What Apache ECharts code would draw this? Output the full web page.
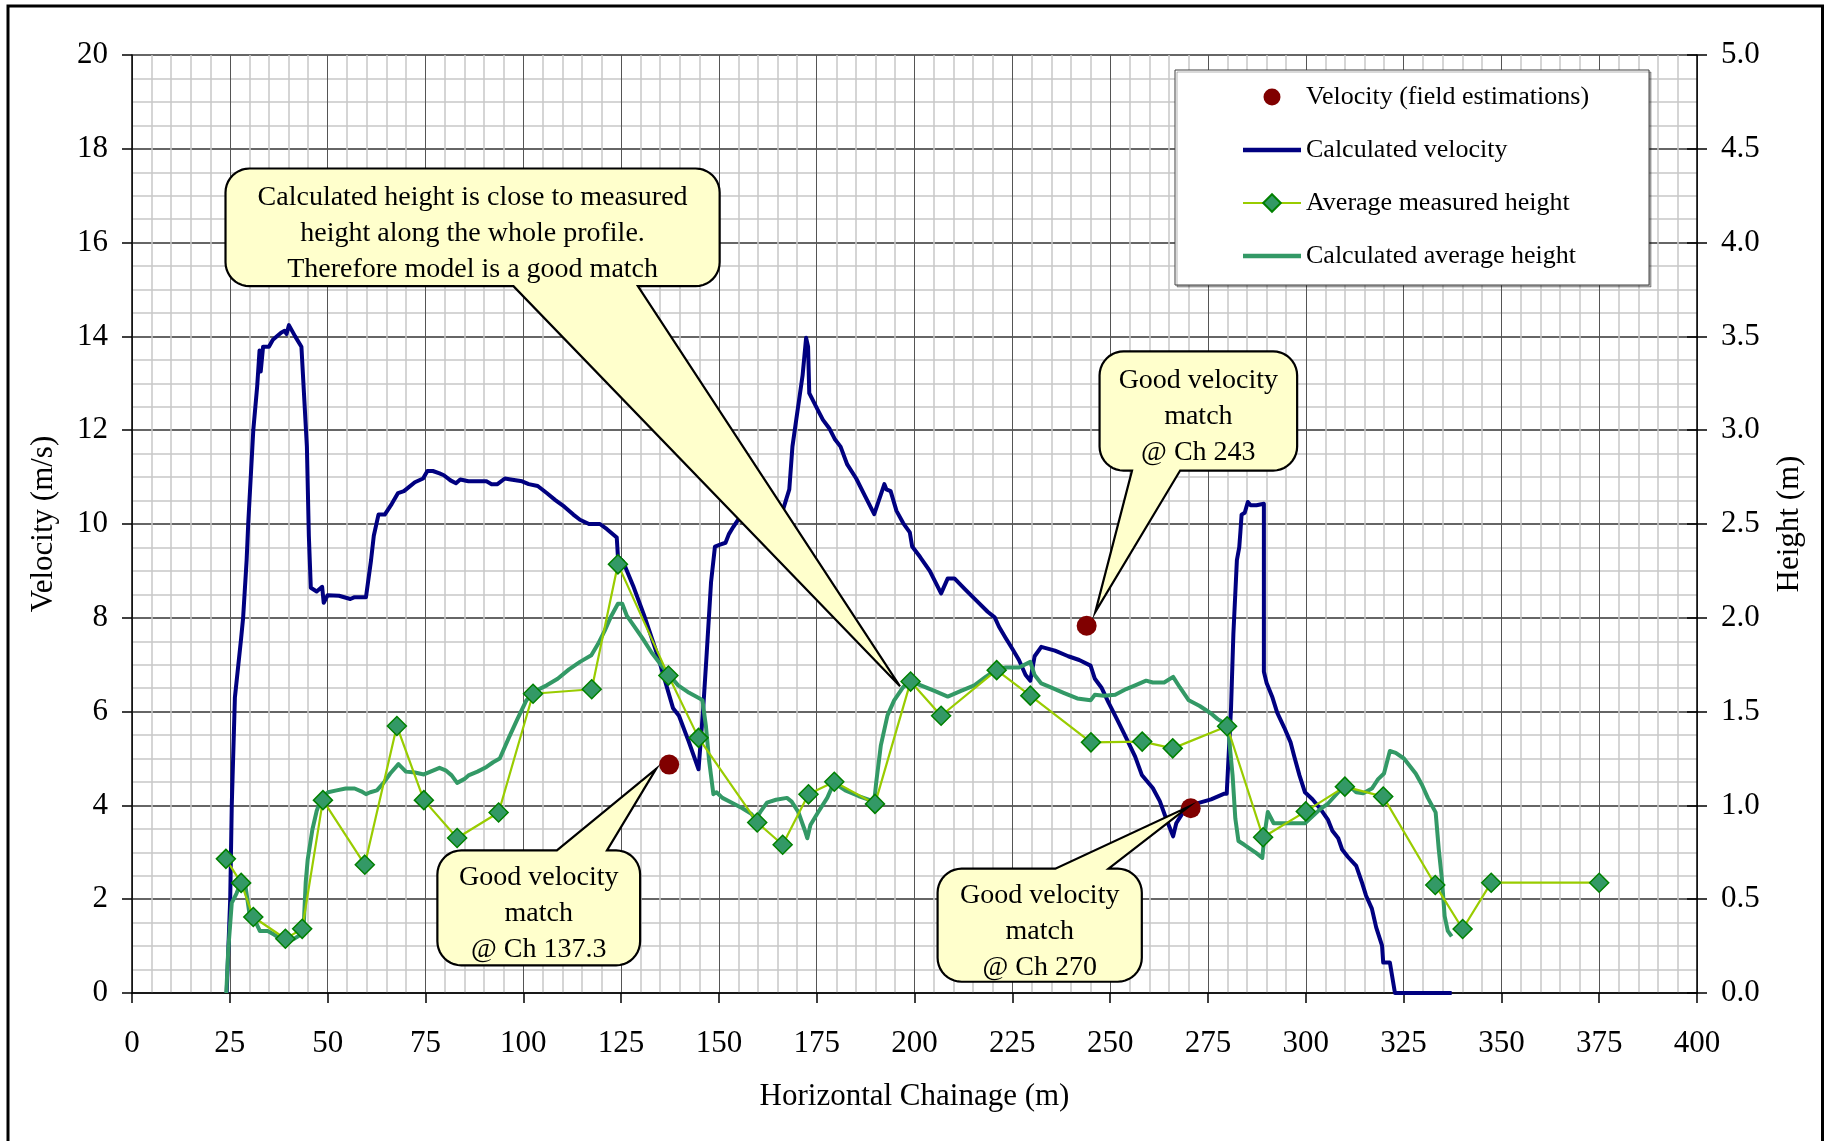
<!DOCTYPE html>
<html><head><meta charset="utf-8">
<script src="https://cdn.jsdelivr.net/npm/echarts@6/dist/echarts.min.js"></script>
<style>html,body{margin:0;padding:0;background:#fff}#chart{width:1825px;height:1141px}</style>
</head><body><div id="chart"></div>
<script>
const FONT = "'Liberation Serif','Times New Roman',serif";

// ---- data (chainage m, velocity m/s or height m) ----
const fieldVelocity = [[137.3,4.87],[244.0,7.83],[270.6,3.94]];

const calcVelocity = [
[24.2,0],[25.1,2.0],[25.5,4.0],[26.3,6.3],[27.9,7.57],[28.4,8.0],[29.3,9.23],[29.7,10.0],[31.0,12.0],[32.0,12.94],[32.6,13.7],[32.9,13.25],[33.5,13.78],[35.0,13.78],[36.0,13.93],[38.1,14.08],[39.0,14.12],[39.5,14.05],[40.1,14.24],[41.7,14.0],[43.3,13.78],[44.7,11.65],[45.2,9.75],[45.7,8.64],[47.2,8.56],[48.6,8.66],[49.0,8.32],[50.0,8.48],[52.9,8.47],[55.8,8.40],[56.9,8.44],[59.8,8.44],[61.1,9.23],[61.8,9.75],[63.0,10.2],[64.6,10.2],[66.4,10.43],[68.0,10.66],[69.5,10.70],[72.3,10.89],[74.4,10.97],[75.5,11.13],[76.9,11.13],[78.6,11.08],[79.7,11.04],[81.4,10.93],[82.8,10.87],[83.9,10.95],[86.0,10.91],[90.6,10.91],[91.9,10.85],[93.4,10.85],[95.3,10.97],[96.8,10.95],[99.7,10.91],[101.4,10.85],[103.7,10.81],[106.0,10.66],[108.2,10.51],[110.5,10.37],[112.8,10.2],[114.5,10.09],[116.8,10.0],[119.6,10.0],[121.4,9.89],[123.9,9.71],[124.2,9.3],[125.5,9.2],[128.1,8.68],[130.9,8.05],[134.4,7.18],[138.3,6.07],[139.8,5.91],[142.3,5.36],[144.8,4.77],[146.0,6.07],[146.9,7.26],[148.0,8.76],[149.0,9.52],[150.3,9.56],[151.7,9.6],[152.6,9.79],[153.7,9.94],[154.9,10.09],[158.0,10.15],[162.0,10.2],[166.3,10.28],[168.0,10.74],[168.8,11.65],[169.7,12.18],[171.4,13.17],[172.3,13.97],[172.8,13.78],[173.1,12.79],[175.4,12.41],[176.6,12.22],[178.3,12.03],[179.7,11.8],[181.1,11.65],[182.8,11.27],[185.1,10.97],[187.4,10.59],[189.7,10.21],[192.3,10.85],[192.8,10.74],[193.9,10.70],[195.4,10.28],[197.1,10.02],[198.8,9.82],[199.4,9.52],[201.4,9.3],[203.9,9.0],[206.8,8.52],[208.5,8.84],[210.2,8.84],[213.0,8.6],[215.9,8.36],[218.7,8.13],[220.5,8.01],[221.6,7.81],[223.3,7.57],[225.0,7.34],[226.7,7.1],[228.4,6.78],[229.6,6.66],[230.7,7.18],[232.4,7.38],[235.9,7.3],[239.3,7.18],[242.1,7.1],[245.0,6.98],[246.1,6.7],[247.8,6.51],[249.6,6.19],[251.8,5.83],[254.1,5.44],[256.4,5.04],[258.1,4.65],[260.9,4.37],[262.7,4.09],[264.4,3.70],[266.1,3.34],[266.9,3.62],[268.4,3.82],[270.1,3.98],[272.9,4.06],[275.8,4.13],[279.2,4.25],[279.8,4.25],[280.9,6.07],[281.5,7.65],[282.4,9.23],[283.0,9.5],[283.3,9.83],[283.6,10.2],[284.4,10.24],[285.2,10.47],[285.9,10.4],[287.4,10.4],[289.3,10.43],[289.3,6.85],[290.0,6.61],[291.5,6.30],[292.7,5.98],[294.5,5.66],[296.1,5.35],[297.1,5.03],[298.4,4.64],[299.8,4.28],[301.7,4.13],[303.7,3.93],[305.7,3.69],[306.8,3.46],[308.3,3.30],[309.3,3.06],[310.8,2.90],[312.9,2.71],[314.4,2.35],[315.4,2.08],[316.9,1.80],[318.0,1.40],[319.5,1.01],[319.8,0.65],[321.5,0.65],[322.8,0],[337.3,0]
];

const avgMeasuredHeight = [
[24.0,0.715],[27.9,0.587],[31.0,0.405],[39.2,0.289],[43.5,0.342],[48.8,1.028],[59.5,0.684],[67.7,1.423],[74.6,1.028],[83.1,0.826],[93.7,0.962],[102.5,1.595],[117.5,1.619],[124.2,2.285],[137.1,1.692],[144.8,1.36],[159.8,0.909],[166.3,0.79],[172.9,1.059],[179.5,1.126],[189.9,1.008],[199.0,1.66],[206.8,1.478],[221.0,1.721],[229.6,1.585],[245.1,1.336],[258.2,1.34],[266.0,1.304],[279.9,1.422],[289.1,0.83],[300.0,0.968],[310.0,1.10],[319.8,1.047],[333.1,0.576],[340.1,0.341],[347.4,0.588],[375.0,0.588]
];

const calcAvgHeight = [
[24.1,0],[24.6,0.23],[25.5,0.48],[26.7,0.53],[27.9,0.59],[29.0,0.57],[30.1,0.41],[31.8,0.37],[32.7,0.33],[34.7,0.33],[36.4,0.31],[39.2,0.27],[41.5,0.29],[43.8,0.32],[44.4,0.59],[44.9,0.71],[46.1,0.87],[47.2,0.97],[48.4,1.04],[50.1,1.07],[52.3,1.08],[54.6,1.09],[56.9,1.09],[58.6,1.075],[59.8,1.06],[60.9,1.07],[62.6,1.08],[64.3,1.12],[66.0,1.17],[68.1,1.22],[70.0,1.18],[72.3,1.175],[74.6,1.165],[76.3,1.18],[78.6,1.20],[80.3,1.185],[81.7,1.16],[83.1,1.12],[84.9,1.14],[86.0,1.16],[88.3,1.18],[90.6,1.205],[92.3,1.23],[94.0,1.25],[96.3,1.36],[98.5,1.46],[100.8,1.56],[103.1,1.61],[106.0,1.64],[108.8,1.675],[111.7,1.725],[114.5,1.765],[117.4,1.80],[119.1,1.86],[120.8,1.93],[122.5,2.01],[124.2,2.075],[125.3,2.075],[126.5,2.01],[128.2,1.96],[130.5,1.89],[132.8,1.815],[135.0,1.755],[137.3,1.695],[139.6,1.64],[142.4,1.60],[145.1,1.57],[145.8,1.56],[146.7,1.42],[147.5,1.24],[148.6,1.06],[149.4,1.07],[150.9,1.04],[153.2,1.015],[156.0,0.985],[158.3,0.955],[159.4,0.925],[160.6,0.965],[162.3,1.015],[164.6,1.03],[167.4,1.04],[168.6,1.02],[170.3,0.965],[172.0,0.865],[172.6,0.825],[173.4,0.895],[175.4,0.965],[177.7,1.04],[179.4,1.12],[182.3,1.08],[185.7,1.05],[189.7,1.02],[190.2,1.12],[191.4,1.32],[193.1,1.48],[194.8,1.56],[197.1,1.63],[198.8,1.665],[201.6,1.64],[205.1,1.61],[208.5,1.58],[211.9,1.61],[215.3,1.64],[218.2,1.685],[221.0,1.725],[223.3,1.735],[226.7,1.735],[229.6,1.765],[230.7,1.695],[232.4,1.65],[234.7,1.63],[238.1,1.60],[241.6,1.57],[245.0,1.56],[246.1,1.59],[248.4,1.585],[251.3,1.59],[254.1,1.62],[256.4,1.64],[259.2,1.665],[260.9,1.655],[263.8,1.655],[266.1,1.685],[267.8,1.63],[270.1,1.56],[272.9,1.53],[275.8,1.49],[277.5,1.46],[279.8,1.43],[280.3,1.38],[281.3,1.16],[282.0,0.93],[282.8,0.81],[284.3,0.79],[287.1,0.75],[288.9,0.72],[289.5,0.85],[290.3,0.965],[291.8,0.905],[293.5,0.905],[299.8,0.905],[303.7,0.98],[305.7,1.01],[308.3,1.07],[310.8,1.11],[312.9,1.07],[314.7,1.065],[316.9,1.09],[318.5,1.14],[320.0,1.17],[321.5,1.29],[323.0,1.28],[325.1,1.25],[326.6,1.21],[328.1,1.17],[329.7,1.11],[331.2,1.04],[333.2,0.963],[334.0,0.765],[334.8,0.607],[335.5,0.41],[336.3,0.331],[337.3,0.302]
];

const seriesNames = ['Velocity (field estimations)','Calculated velocity','Average measured height','Calculated average height'];
const axisNames = {x:'Horizontal Chainage (m)', yLeft:'Velocity (m/s)', yRight:'Height (m)'};

// callout annotations, anchored in (chainage, velocity) coordinates
const callouts = [
  {lines:['Calculated height is close to measured','height along the whole profile.','Therefore model is a good match'],
   box:[23.9,150.2,17.58,15.07], wedge:'bottom', base:[97.5,129.3], tip:[196.3,6.54]},
  {lines:['Good velocity','match','@ Ch 137.3'], box:[78.05,129.87,3.04,0.59], wedge:'top', base:[108.6,121.4], tip:[133.96,4.78]},
  {lines:['Good velocity','match','@ Ch 243'], box:[247.3,297.8,13.68,11.14], wedge:'bottom', base:[255.6,267.9], tip:[246.2,8.12]},
  {lines:['Good velocity','match','@ Ch 270'], box:[205.9,258.1,2.65,0.24], wedge:'top', base:[236.0,249.6], tip:[270.0,3.97]}
];

const chart = echarts.init(document.getElementById('chart'), null, {renderer:'canvas'});
const labelStyle = {fontFamily:FONT, fontSize:31, color:'#000'};
// legend icons: plain thick bar for lines without markers, smaller dot for the scatter
const barIcon = 'path://M0,0 L100,0 L100,8 L0,8 Z';
const dotIcon = 'path://M0,0 M22,22 M19.5,11 A8.5,8.5 0 1 1 2.5,11 A8.5,8.5 0 1 1 19.5,11 Z';

const option = {
  animation:false,
  backgroundColor:'#fff',
  grid:{left:132, right:128, top:55, bottom:148, containLabel:false, outerBoundsMode:'none'},
  legend:{
    orient:'vertical', left:1175, top:70,
    padding:[14,60,16,67], itemGap:27, itemWidth:58, itemHeight:22,
    backgroundColor:'#fff', borderColor:'#404040', borderWidth:1, borderRadius:0,
    shadowColor:'rgba(0,0,0,0.3)', shadowOffsetX:2, shadowOffsetY:2, shadowBlur:0,
    textStyle:{fontFamily:FONT, fontSize:26, color:'#000'},
    data:[
      {name:seriesNames[0], icon:dotIcon},
      {name:seriesNames[1], icon:barIcon},
      {name:seriesNames[2]},
      {name:seriesNames[3], icon:barIcon}
    ]
  },
  xAxis:{
    type:'value', min:0, max:400, interval:25,
    name:axisNames.x, nameLocation:'middle', nameGap:88, nameMoveOverlap:false,
    nameTextStyle:labelStyle,
    axisLine:{show:true, onZero:false, lineStyle:{color:'#000', width:1.5}},
    axisTick:{show:true, length:10, lineStyle:{color:'#000', width:1.5}},
    axisLabel:Object.assign({margin:35}, labelStyle),
    splitLine:{show:true, lineStyle:{color:'#555', width:1}},
    minorTick:{show:false, splitNumber:5},
    minorSplitLine:{show:true, lineStyle:{color:'#c8c8c8', width:1.5}}
  },
  yAxis:[
    {type:'value', min:0, max:20, interval:2, position:'left',
     name:axisNames.yLeft, nameLocation:'middle', nameGap:73, nameMoveOverlap:false,
     nameTextStyle:labelStyle,
     axisLine:{show:true, lineStyle:{color:'#000', width:1.5}},
     axisTick:{show:true, length:10, lineStyle:{color:'#000', width:1.5}},
     axisLabel:Object.assign({margin:24}, labelStyle),
     splitLine:{show:true, lineStyle:{color:'#333', width:1.5}},
     minorTick:{show:false, splitNumber:4},
     minorSplitLine:{show:true, lineStyle:{color:'#c8c8c8', width:1.5}}},
    {type:'value', min:0, max:5, interval:0.5, position:'right',
     name:axisNames.yRight, nameLocation:'middle', nameGap:77, nameMoveOverlap:false,
     nameTextStyle:labelStyle,
     axisLine:{show:true, lineStyle:{color:'#000', width:1.5}},
     axisTick:{show:true, length:10, lineStyle:{color:'#000', width:1.5}},
     axisLabel:Object.assign({margin:24, formatter:v=>v.toFixed(1)}, labelStyle),
     splitLine:{show:false}},
    {type:'value', min:0, max:5, interval:0.5, position:'right',
     axisLine:{show:false}, axisLabel:{show:false}, splitLine:{show:false},
     axisTick:{show:true, inside:true, length:10, lineStyle:{color:'#000', width:1.5}}}
  ],
  series:[
    {name:seriesNames[1], type:'line', xAxisIndex:0, yAxisIndex:0, data:calcVelocity,
     symbol:'none', showSymbol:false, z:2,
     lineStyle:{color:'#000080', width:4, join:'round'}, itemStyle:{color:'#000080'}},
    {name:seriesNames[3], type:'line', xAxisIndex:0, yAxisIndex:1, data:calcAvgHeight,
     symbol:'none', showSymbol:false, z:3,
     lineStyle:{color:'#339966', width:4, join:'round'}, itemStyle:{color:'#339966'}},
    {name:seriesNames[2], type:'line', xAxisIndex:0, yAxisIndex:1, data:avgMeasuredHeight,
     symbol:'diamond', symbolSize:19, showSymbol:true, z:4,
     lineStyle:{color:'#99CC00', width:2.2}, itemStyle:{color:'#339966', borderColor:'#008000', borderWidth:1.5, opacity:1}},
    {name:seriesNames[0], type:'scatter', xAxisIndex:0, yAxisIndex:0, data:fieldVelocity,
     symbol:'circle', symbolSize:20, z:5, itemStyle:{color:'#800000', opacity:1}}
  ]
};
chart.setOption(option);

function px(p){ return chart.convertToPixel({xAxisIndex:0, yAxisIndex:0}, p); }
function arc(pts, cx, cy, r, a0, a1){
  const n = 10;
  for(let i=0;i<=n;i++){ const a=(a0+(a1-a0)*i/n)*Math.PI/180; pts.push([cx+r*Math.cos(a), cy+r*Math.sin(a)]); }
}
const elements = [];
callouts.forEach(c=>{
  const [L,T] = px([c.box[0], c.box[2]]);
  const [R,B] = px([c.box[1], c.box[3]]);
  const b1 = px([c.base[0], c.box[2]])[0], b2 = px([c.base[1], c.box[2]])[0];
  const tip = px(c.tip);
  const r = 24;
  const pts = [];
  pts.push([L+r, T]);
  if(c.wedge==='top'){ pts.push([b1,T], tip, [b2,T]); }
  pts.push([R-r, T]);
  arc(pts, R-r, T+r, r, -90, 0);
  pts.push([R, B-r]);
  arc(pts, R-r, B-r, r, 0, 90);
  if(c.wedge==='bottom'){ pts.push([b2,B], tip, [b1,B]); }
  pts.push([L+r, B]);
  arc(pts, L+r, B-r, r, 90, 180);
  pts.push([L, T+r]);
  arc(pts, L+r, T+r, r, 180, 270);
  elements.push({type:'polygon', z:100, shape:{points:pts},
    style:{fill:'#FFFFCC', stroke:'#000', lineWidth:2.2, lineJoin:'miter'}});
  elements.push({type:'text', z:101, style:{text:c.lines.join('\n'), x:(L+R)/2, y:(T+B)/2 + 6,
    align:'center', verticalAlign:'middle', textAlign:'center', textVerticalAlign:'middle',
    font:'28px ' + FONT, lineHeight:36, fill:'#000'}});
});
elements.push({type:'rect', z:100, shape:{x:8, y:6, width:1814.5, height:1160},
  style:{fill:'none', stroke:'#000', lineWidth:3}});
chart.setOption({graphic:{elements:elements}});
</script>
</body></html>
